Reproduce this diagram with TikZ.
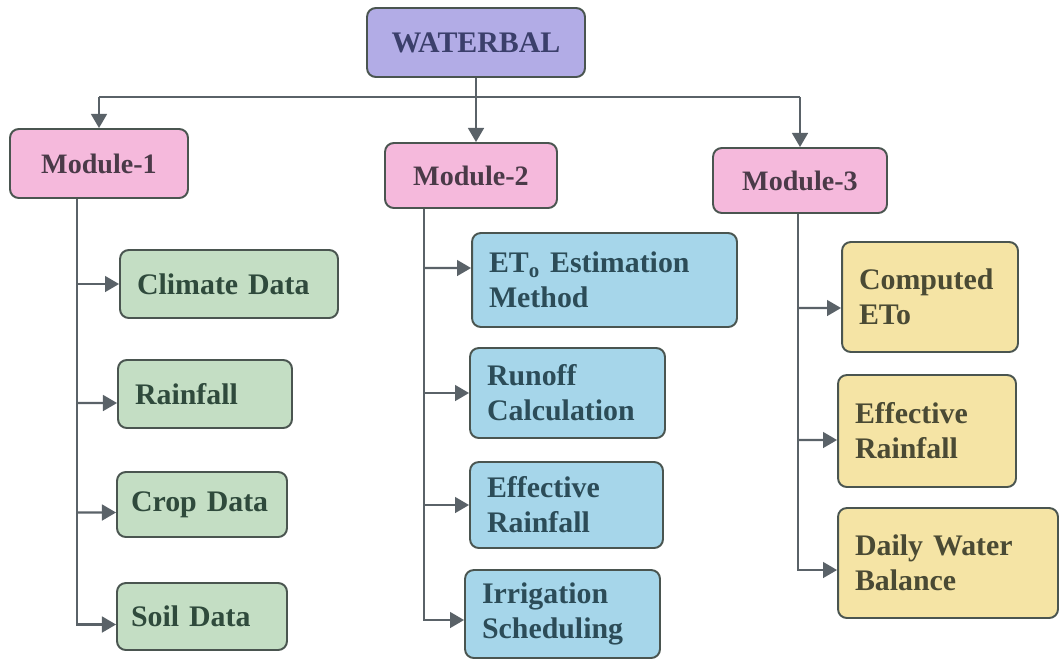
\documentclass[tikz,border=0pt]{standalone}
\usepackage{fontspec}
\setmainfont{Liberation Serif}
\usetikzlibrary{arrows.meta}

\definecolor{edgegray}{HTML}{4A5550}
\definecolor{linegray}{HTML}{5A6268}
\definecolor{topfill}{HTML}{B2ACE6}
\definecolor{toptext}{HTML}{3B3F6B}
\definecolor{modfill}{HTML}{F5B9DC}
\definecolor{modtext}{HTML}{4A3A48}
\definecolor{grnfill}{HTML}{C4DEC4}
\definecolor{grntext}{HTML}{2F4A3C}
\definecolor{blufill}{HTML}{A6D6EA}
\definecolor{blutext}{HTML}{2C4C58}
\definecolor{yelfill}{HTML}{F5E4A5}
\definecolor{yeltext}{HTML}{4A4A34}

\newcommand\topfont{\bfseries\fontsize{17}{20}\selectfont}
\newcommand\modfont{\bfseries\fontsize{16}{19}\selectfont}
\newcommand\boxfont{\bfseries\fontsize{17}{20}\selectfont}

\tikzset{
  lvl/.style={draw=edgegray, line width=1.1pt, rounded corners=5pt,
    inner xsep=0.34cm, inner ysep=0pt},
  topbox/.style={lvl, fill=topfill, text=toptext, font=\topfont,
    minimum width=4.36cm, minimum height=1.38cm},
  modbox/.style={lvl, fill=modfill, text=modtext, font=\modfont,
    minimum width=3.5cm, minimum height=1.32cm},
  datbox/.style={lvl, fill=grnfill, text=grntext, font=\boxfont, align=left},
  calcbox/.style={lvl, fill=blufill, text=blutext, font=\boxfont, align=left},
  outbox/.style={lvl, fill=yelfill, text=yeltext, font=\boxfont, align=left},
  arr/.style={draw=linegray, line width=1.2pt, -{Triangle[length=8pt,width=9pt]}},
}

\begin{document}
\begin{tikzpicture}[x=0.02cm,y=-0.02cm]
\useasboundingbox (0,0) rectangle (1060,660);

\node[topbox] (wb) at (476,42.5) {WATERBAL};

\node[modbox, minimum width=3.56cm, minimum height=1.38cm] (m1) at (99,163.5) {Module-1};
\node[modbox, minimum width=3.44cm, minimum height=1.3cm] (m2) at (471,175.5) {Module-2};
\node[modbox, minimum width=3.48cm, minimum height=1.3cm] (m3) at (800,180.5) {Module-3};

\node[datbox, text width=3.68cm, minimum height=1.36cm] (cd) at (229,284) {Climate Data};
\node[datbox, text width=2.8cm, minimum height=1.36cm] (rf) at (205,394) {Rainfall};
\node[datbox, inner xsep=0.28cm, text width=2.84cm, minimum height=1.3cm] (crop) at (202,504.5) {Crop Data};
\node[datbox, inner xsep=0.28cm, text width=2.84cm, minimum height=1.34cm] (soil) at (202,616.5) {Soil Data};

\node[calcbox, text width=4.62cm, minimum height=1.88cm] (et) at (604.5,280) {ET\textsubscript{o} Estimation\\Method};
\node[calcbox, text width=3.22cm, minimum height=1.8cm] (ro) at (567.5,393) {Runoff\\Calculation};
\node[calcbox, text width=3.18cm, minimum height=1.72cm] (er2) at (566.5,505) {Effective\\Rainfall};
\node[calcbox, text width=3.22cm, minimum height=1.76cm] (irr) at (562.5,614) {Irrigation\\Scheduling};

\node[outbox, text width=2.84cm, minimum height=2.2cm] (ceto) at (930,297) {Computed\\ETo};
\node[outbox, text width=2.88cm, minimum height=2.24cm] (er3) at (927,431) {Effective\\Rainfall};
\node[outbox, text width=3.72cm, minimum height=2.2cm] (dwb) at (948,563) {Daily Water\\Balance};

\coordinate (bus) at (476,97);
\coordinate (t1) at (77,0);
\coordinate (t2) at (424,0);
\coordinate (t3) at (798,0);

\draw[arr] (wb.south) -- (wb.south |- m2.north);
\draw[linegray, line width=1.2pt] (m1.north |- bus) -- (m3.north |- bus);
\draw[arr] (m1.north |- bus) -- (m1.north);
\draw[arr] (m3.north |- bus) -- (m3.north);

\draw[arr] (m1.south -| t1) |- ([yshift=-0.16cm]soil.west);
\draw[arr] (t1 |- cd.west) -- (cd.west);
\draw[arr] (t1 |- rf.west) ++(0,9) -- ([yshift=-0.18cm]rf.west);
\draw[arr] (t1 |- crop.west) ++(0,8) -- ([yshift=-0.16cm]crop.west);

\draw[arr] (m2.south -| t2) |- ([yshift=-0.12cm]irr.west);
\draw[arr] (t2 |- et.west) ++(0,-12) -- ([yshift=0.24cm]et.west);
\draw[arr] (t2 |- ro.west) -- (ro.west);
\draw[arr] (t2 |- er2.west) -- (er2.west);

\draw[arr] (m3.south -| t3) |- ([yshift=-0.14cm]dwb.west);
\draw[arr] (t3 |- ceto.west) ++(0,11) -- ([yshift=-0.22cm]ceto.west);
\draw[arr] (t3 |- er3.west) ++(0,9) -- ([yshift=-0.18cm]er3.west);

\end{tikzpicture}
\end{document}
